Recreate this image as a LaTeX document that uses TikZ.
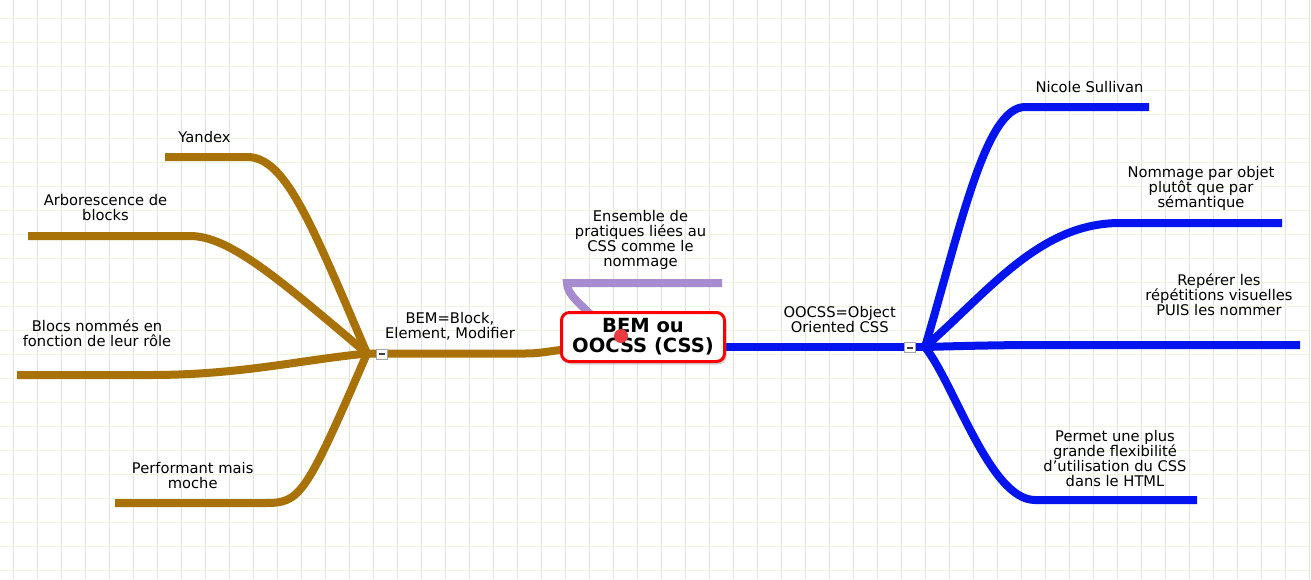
\documentclass[tikz,border=0pt]{standalone}
\usepackage{fontspec}
\setmainfont{DejaVu Sans}
\usetikzlibrary{shadows}
\definecolor{brn}{RGB}{168,114,8}
\definecolor{blu}{RGB}{4,20,238}
\definecolor{prp}{RGB}{167,139,207}
\definecolor{gridv}{RGB}{226,228,216}
\definecolor{gridh}{RGB}{234,246,224}
\definecolor{dotred}{RGB}{232,58,64}
\begin{document}
\begin{tikzpicture}[x=1pt,y={(0pt,-1pt)},
  lbl/.style={font=\fontsize{14.7}{15}\selectfont, align=center, inner sep=0pt},
  brbranch/.style={draw=brn, line width=8pt},
  blbranch/.style={draw=blu, line width=8pt},
  prbranch/.style={draw=prp, line width=8pt},
  minusbox/.style={draw=black!35, fill=white, minimum width=11pt, minimum height=10pt, inner sep=0pt, line width=0.8pt,
    path picture={\draw[line width=2pt,black!75] ([xshift=-3pt]path picture bounding box.center) -- ([xshift=3pt]path picture bounding box.center);}},
  rootbox/.style={draw=red, line width=3pt, fill=white, rounded corners=8pt, minimum width=163pt, minimum height=49pt, inner sep=0pt,
    align=center, font=\fontsize{19.5}{20}\selectfont\bfseries,
    drop shadow={opacity=0.35, shadow xshift=2pt, shadow yshift=-3pt}}
]
\useasboundingbox (0,0) rectangle (1311,579);
\fill[white] (0,0) rectangle (1311,579);
% grid
\foreach \k in {0,...,54} \draw[gridv, line width=1.2pt] (13.3+24*\k,0) -- (13.3+24*\k,579);
\foreach \k in {0,...,23} \draw[gridh, line width=1.2pt] (0,18.3+24*\k) -- (1311,18.3+24*\k);

% junctions and bar ends
\coordinate (J1) at (367,353.5);
\coordinate (J2) at (925,347);
\coordinate (yA) at (165,157);   \coordinate (yB) at (247,157);
\coordinate (aA) at (28,236);    \coordinate (aB) at (190,236);
\coordinate (nA) at (17,375);    \coordinate (nB) at (150,375);
\coordinate (pA) at (115,503);   \coordinate (pB) at (265,503);
\coordinate (sA) at (1025,107);  \coordinate (sB) at (1149,107);
\coordinate (oA) at (1120,223);  \coordinate (oB) at (1282,223);
\coordinate (rA) at (1040,345);  \coordinate (rB) at (1300,345);
\coordinate (fA) at (1035,500);  \coordinate (fB) at (1197,500);
\coordinate (eA) at (567,283);   \coordinate (eB) at (722,283);

% brown branch
\draw[brbranch] (J1) -- (525,353.5) .. controls (545,353.5) and (550,350) .. (575,349);
\draw[brbranch] (J1) .. controls (310,220) and (285,157) .. (yB) -- (yA);
\draw[brbranch] (J1) .. controls (280,280) and (230,236) .. (aB) -- (aA);
\draw[brbranch] (J1) .. controls (300,360) and (240,375) .. (nB) -- (nA);
\draw[brbranch] (J1) .. controls (305,497) and (300,503) .. (pB) -- (pA);

% blue branch
\draw[blbranch] (J2) -- (710,347);
\draw[blbranch] (J2) .. controls (960,230) and (985,107) .. (sA) -- (sB);
\draw[blbranch] (J2) .. controls (990,290) and (1040,223) .. (oA) -- (oB);
\draw[blbranch] (J2) .. controls (960,346) and (1000,345) .. (rA) -- (rB);
\draw[blbranch] (J2) .. controls (955,385) and (990,500) .. (fA) -- (fB);

% purple branch
\draw[prbranch] (598,322) .. controls (580,303) and (567,295) .. (eA) -- (eB);

% minus boxes
\node[minusbox] (m1) at (381.7,354) {};
\node[minusbox] (m2) at (910,347.7) {};

% root
\node[rootbox] (root) at (643,337) {BEM ou\\OOCSS (CSS)};
\fill[dotred] (621,336) circle[radius=7pt];

% labels
\node[lbl] (tyandex) at (204.5,137) {Yandex};
\node[lbl] (tarbo) at (105.5,208) {Arborescence de\\blocks};
\node[lbl] (tblocs) at (97,333) {Blocs nommés en\\fonction de leur rôle};
\node[lbl] (tperf) at (192.7,476) {Performant mais\\moche};
\node[lbl] (tbem) at (450,326) {BEM=Block,\\Element, Modifier};
\node[lbl] (tens) at (640.5,240) {Ensemble de\\pratiques liées au\\CSS comme le\\nommage};
\node[lbl] (toocss) at (839.7,320) {OOCSS=Object\\Oriented CSS};
\node[lbl] (tnicole) at (1089.5,87) {Nicole Sullivan};
\node[lbl] (tnom) at (1201,188) {Nommage par objet\\plutôt que par\\sémantique};
\node[lbl] (trep) at (1219,295) {Repérer les\\répétitions visuelles\\PUIS les nommer};
\node[lbl] (tperm) at (1115,459) {Permet une plus\\grande flexibilité\\d'utilisation du CSS\\dans le HTML};
\end{tikzpicture}
\end{document}
